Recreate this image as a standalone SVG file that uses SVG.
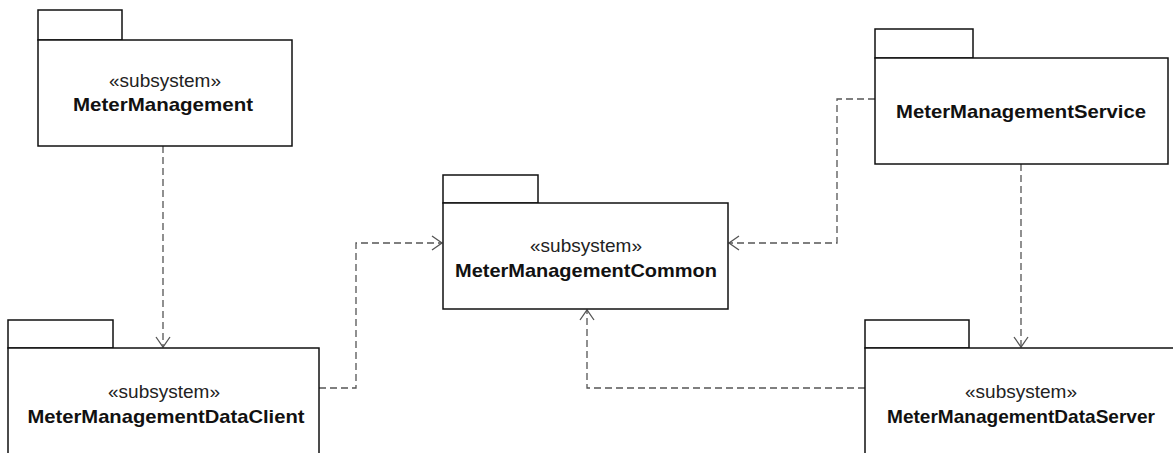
<svg xmlns="http://www.w3.org/2000/svg" width="1173" height="453" viewBox="0 0 1173 453">
  <style>
    .pkg { fill: #ffffff; stroke: #111111; stroke-width: 1.5; }
    .stereo { font-family: "Liberation Sans", Arial, sans-serif; font-size: 19px; fill: #222222; text-anchor: middle; }
    .name { font-family: "Liberation Sans", Arial, sans-serif; font-size: 19px; font-weight: bold; fill: #111111; text-anchor: middle; }
    .dep { fill: none; stroke: #555555; stroke-width: 1.3; stroke-dasharray: 7 4; }
  </style>
  <defs>
    <marker id="open-arrow" markerUnits="userSpaceOnUse" markerWidth="20" markerHeight="20" viewBox="-12 -10 14 20" refX="0" refY="0" orient="auto">
      <path d="M -10 -7 L 0 0 L -10 7" fill="none" stroke="#555555" stroke-width="1.3"/>
    </marker>
  </defs>

  <rect width="1173" height="453" fill="#ffffff"/>

  <!-- dependency connectors -->
  <g id="connectors">
    <path class="dep" d="M 163 146 L 163 347" marker-end="url(#open-arrow)"/>
    <path class="dep" d="M 319 388 L 356 388 L 356 243 L 442 243" marker-end="url(#open-arrow)"/>
    <path class="dep" d="M 875 99 L 837 99 L 837 243 L 729 243" marker-end="url(#open-arrow)"/>
    <path class="dep" d="M 1021 164 L 1021 347" marker-end="url(#open-arrow)"/>
    <path class="dep" d="M 865 388 L 587 388 L 587 310" marker-end="url(#open-arrow)"/>
  </g>

  <g id="MeterManagement">
    <rect class="pkg" x="38" y="10" width="84" height="30"/>
    <rect class="pkg" x="38" y="40" width="254" height="106"/>
    <text class="stereo" x="165" y="87">«subsystem»</text>
    <text class="name" x="163" y="111" textLength="180" lengthAdjust="spacingAndGlyphs">MeterManagement</text>
  </g>

  <g id="MeterManagementDataClient">
    <rect class="pkg" x="8" y="320" width="105" height="28"/>
    <rect class="pkg" x="8" y="348" width="311" height="120"/>
    <text class="stereo" x="164" y="398">«subsystem»</text>
    <text class="name" x="166" y="423" textLength="277" lengthAdjust="spacingAndGlyphs">MeterManagementDataClient</text>
  </g>

  <g id="MeterManagementCommon">
    <rect class="pkg" x="443" y="175" width="95" height="28"/>
    <rect class="pkg" x="443" y="203" width="285" height="106"/>
    <text class="stereo" x="586" y="252">«subsystem»</text>
    <text class="name" x="586" y="277" textLength="262" lengthAdjust="spacingAndGlyphs">MeterManagementCommon</text>
  </g>

  <g id="MeterManagementService">
    <rect class="pkg" x="875" y="29" width="98" height="29"/>
    <rect class="pkg" x="875" y="58" width="293" height="106"/>
    <text class="name" x="1021" y="118" textLength="250" lengthAdjust="spacingAndGlyphs">MeterManagementService</text>
  </g>

  <g id="MeterManagementDataServer">
    <rect class="pkg" x="865" y="320" width="104" height="28"/>
    <rect class="pkg" x="865" y="348" width="320" height="120"/>
    <text class="stereo" x="1021" y="398">«subsystem»</text>
    <text class="name" x="1021" y="423" textLength="268" lengthAdjust="spacingAndGlyphs">MeterManagementDataServer</text>
  </g>
</svg>
